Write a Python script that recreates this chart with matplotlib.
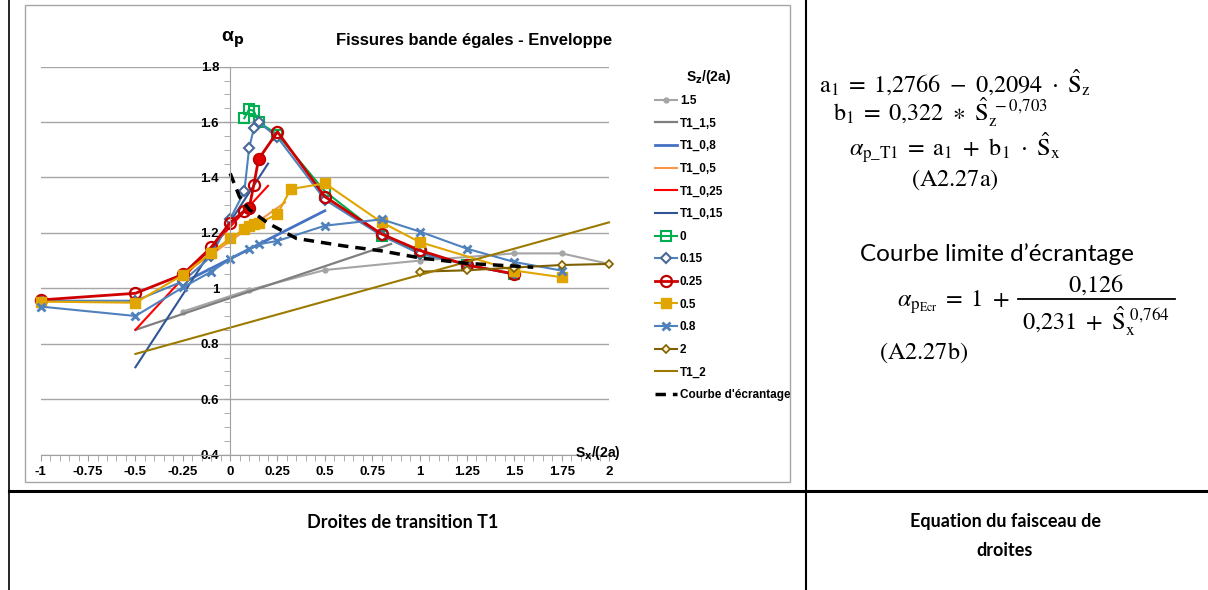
import matplotlib
matplotlib.use('Agg')
import matplotlib.pyplot as plt
from matplotlib.lines import Line2D
from matplotlib.patches import Rectangle
from matplotlib.ticker import MultipleLocator, FuncFormatter

plt.rcParams['font.family'] = ['Liberation Sans', 'DejaVu Sans']

###### Data ######

s15_x = [-0.25, 0.1, 0.5, 1.0, 1.5, 1.75, 2.0]
s15_y = [0.916, 0.994, 1.066, 1.10, 1.126, 1.126, 1.088]

t1_15_x = [-0.5, 0.85]
t1_15_y = [0.85, 1.16]

t1_08_x = [-0.25, 0.5]
t1_08_y = [1.02, 1.28]

t1_05_x = [-0.25, 0.29]
t1_05_y = [1.05, 1.31]

t1_025_x = [-0.5, 0.2]
t1_025_y = [0.85, 1.37]

t1_015_x = [-0.5, 0.2]
t1_015_y = [0.715, 1.45]

s0_x = [0.075, 0.1, 0.125, 0.15, 0.25, 0.5, 0.8, 1.0, 1.25, 1.5]
s0_y = [1.614, 1.646, 1.64, 1.60, 1.555, 1.35, 1.19, 1.13, 1.085, 1.05]

s015_x = [-1, -0.5, -0.25, -0.1, 0, 0.075, 0.1, 0.125, 0.15, 0.25, 0.5, 0.8, 1.0, 1.25, 1.5]
s015_y = [0.955, 0.955, 1.025, 1.115, 1.25, 1.35, 1.505, 1.577, 1.60, 1.545, 1.32, 1.19, 1.125, 1.085, 1.05]

s025_x = [-1, -0.5, -0.25, -0.1, 0, 0.075, 0.1, 0.125, 0.15, 0.25, 0.5, 0.8, 1.0, 1.25, 1.5]
s025_y = [0.958, 0.982, 1.05, 1.148, 1.237, 1.28, 1.289, 1.373, 1.466, 1.565, 1.331, 1.196, 1.137, 1.084, 1.052]
s025_filled = [6, 8]   # points drawn with a solid marker

s05_x = [-1, -0.5, -0.25, -0.1, 0, 0.075, 0.1, 0.125, 0.15, 0.25, 0.32, 0.5, 0.8, 1.0, 1.5, 1.75]
s05_y = [0.952, 0.948, 1.048, 1.128, 1.181, 1.213, 1.225, 1.231, 1.235, 1.268, 1.358, 1.379, 1.238, 1.167, 1.064, 1.04]

s08_x = [-1, -0.5, -0.25, -0.1, 0, 0.1, 0.15, 0.25, 0.5, 0.8, 1.0, 1.25, 1.5, 1.75]
s08_y = [0.934, 0.90, 1.003, 1.06, 1.105, 1.141, 1.159, 1.171, 1.226, 1.249, 1.205, 1.143, 1.095, 1.064]

s2_x = [1.0, 1.25, 1.5, 1.75, 2.0]
s2_y = [1.06, 1.065, 1.075, 1.084, 1.088]

t1_2_x = [-0.5, 2.0]
t1_2_y = [0.763, 1.238]

ecr_x = [0, 0.05, 0.1, 0.2, 0.35, 0.6, 0.8, 1.0, 1.25, 1.6]
ecr_y = [1.415, 1.33, 1.285, 1.235, 1.18, 1.153, 1.135, 1.11, 1.09, 1.076]

###### Styles ######

series = [
    ('1.5',       s15_x,    s15_y,    dict(color='#A5A5A5', lw=1.5, marker='o', ms=3.5)),
    ('T1_1,5',    t1_15_x,  t1_15_y,  dict(color='#7F7F7F', lw=1.6)),
    ('T1_0,8',    t1_08_x,  t1_08_y,  dict(color='#4472C4', lw=2.0)),
    ('T1_0,5',    t1_05_x,  t1_05_y,  dict(color='#F79646', lw=1.5)),
    ('T1_0,25',   t1_025_x, t1_025_y, dict(color='#FF0000', lw=1.5)),
    ('T1_0,15',   t1_015_x, t1_015_y, dict(color='#2F5597', lw=1.5)),
    ('0',         s0_x,     s0_y,     dict(color='#00B050', lw=1.5, marker='s', ms=7, mfc='none', mew=1.5)),
    ('0.15',      s015_x,   s015_y,   dict(color='#4F81BD', lw=1.5, marker='D', ms=5, mfc='white', mec='#4A6A96', mew=1.5)),
    ('0.25',      s025_x,   s025_y,   dict(color='#D00000', lw=2.0, marker='o', ms=8, mfc='none', mec='#C00000', mew=1.6)),
    ('0.5',       s05_x,    s05_y,    dict(color='#E0A500', lw=1.5, marker='s', ms=7)),
    ('0.8',       s08_x,    s08_y,    dict(color='#4F81BD', lw=1.5, marker='x', ms=6, mew=2)),
    ('2',         s2_x,     s2_y,     dict(color='#7F6000', lw=1.5, marker='D', ms=4, mfc='#FFF2CC', mew=1.2)),
    ('T1_2',      t1_2_x,   t1_2_y,   dict(color='#9C7A00', lw=1.5)),
    ("Courbe d'écrantage", ecr_x, ecr_y, dict(color='black', lw=2.5, ls=(0, (3, 2)))),
]

W, H = 1208, 590

fig = plt.figure(figsize=(W / 100, H / 100), dpi=100)
ax = fig.add_axes([40.7 / W, 1 - 454.5 / H, (609 - 40.7) / W, (454.5 - 66.7) / H])

handles = []
for label, xs, ys, st in series:
    ln, = ax.plot(xs, ys, label=label, clip_on=False, **st)
    handles.append(ln)
    if label == '0.25':
        ax.plot(xs, ys, ls='none', marker='o', ms=8, color='#E00000', mec='#C00000',
                markevery=s025_filled, clip_on=False)

ax.set_xlim(-1, 2)
ax.set_ylim(0.4, 1.8)

grey = '#A0A0A0'
ax.spines['top'].set_visible(False)
ax.spines['right'].set_visible(False)
ax.spines['left'].set_position(('data', 0))
ax.spines['left'].set_color(grey)
ax.spines['bottom'].set_color(grey)

ax.xaxis.set_major_locator(MultipleLocator(0.25))
ax.xaxis.set_minor_locator(MultipleLocator(0.05))
ax.yaxis.set_major_locator(MultipleLocator(0.2))
ax.yaxis.set_minor_locator(MultipleLocator(0.05))
fmt = FuncFormatter(lambda v, p: '%g' % round(v, 2))
ax.xaxis.set_major_formatter(fmt)
ax.yaxis.set_major_formatter(fmt)
ax.tick_params(which='both', direction='out', length=4, color=grey)
ax.tick_params(labelsize=9.5, pad=4)
for t in ax.get_xticklabels() + ax.get_yticklabels():
    t.set_fontweight('bold')
ax.yaxis.grid(True, color='#A6A6A6', lw=1)
ax.set_axisbelow(True)

# chart texts
fig.text(233 / W, 1 - 40 / H, 'α$_{\\mathbf{p}}$', fontsize=14, fontweight='bold', ha='center', va='center')
fig.text(474 / W, 1 - 40 / H, 'Fissures bande égales - Enveloppe', fontsize=12, fontweight='bold',
         ha='center', va='center')
fig.text(598 / W, 1 - 453 / H, 'S$_{\\mathbf{x}}$/(2a)', fontsize=10, fontweight='bold', ha='center', va='center')
fig.text(709 / W, 1 - 77 / H, 'S$_{\\mathbf{z}}$/(2a)', fontsize=10, fontweight='bold', ha='center', va='center')

ax.legend(handles=handles, loc='upper left', bbox_to_anchor=(655 / W, 1 - 95 / H),
          bbox_transform=fig.transFigure, frameon=False, borderpad=0, borderaxespad=0,
          prop={'weight': 'bold', 'size': 8.5}, handlelength=1.9, handletextpad=0.2,
          labelspacing=0.9, numpoints=1)

# chart frame and table borders
fig.add_artist(Rectangle((25 / W, 1 - 482 / H), (790 - 25) / W, (482 - 5) / H,
                         transform=fig.transFigure, fill=False, edgecolor='#A6A6A6', lw=1))
fig.add_artist(Line2D([9 / W, 9 / W], [0, 1], color='black', lw=1.2, transform=fig.transFigure))
fig.add_artist(Line2D([806 / W, 806 / W], [0, 1], color='black', lw=1.5, transform=fig.transFigure))
fig.add_artist(Line2D([9 / W, 1], [1 - 491 / H, 1 - 491 / H], color='black', lw=2.2, transform=fig.transFigure))

# equations: explicit spaces so '=' and the binary operators get similar gaps
fs = 17.5
eq = dict(ha='center', va='center', fontsize=fs, math_fontfamily='stix')
fig.text(955 / W, 1 - 82 / H,
         r'$\mathrm{a_1}\;=\;1{,}2766\ -\ 0{,}2094\ \cdot\ \hat{\mathrm{S}}_\mathrm{z}$', **eq)
fig.text(940 / W, 1 - 112 / H,
         r'$\mathrm{b_1}\;=\;0{,}322\ \ast\ \hat{\mathrm{S}}_\mathrm{z}^{\ -0{,}703}$', **eq)
fig.text(955 / W, 1 - 148 / H,
         r'$\alpha_{\mathrm{p\_T1}}\;=\;\mathrm{a_1}\ +\ \mathrm{b_1}\ \cdot\ \hat{\mathrm{S}}_\mathrm{x}$', **eq)
fig.text(955 / W, 1 - 180 / H, r'$\mathrm{(A2.27a)}$', **eq)
fig.text(997 / W, 1 - 254 / H, 'Courbe limite d’écrantage', ha='center', va='center', fontsize=17.5, family='Lato')

# fraction built from parts so the spacing matches
fig.text(1010 / W, 1 - 307 / H, r'$\alpha_{\mathrm{p_{Ecr}}}\;=\;1\ +$',
         ha='right', va='baseline', fontsize=fs, math_fontfamily='stix')
fig.text(1096 / W, 1 - 292 / H, r'$0{,}126$', ha='center', va='baseline', fontsize=fs, math_fontfamily='stix')
fig.add_artist(Line2D([1018 / W, 1175 / W], [1 - 299 / H, 1 - 299 / H], color='black', lw=1.3,
                      transform=fig.transFigure))
fig.text(1096 / W, 1 - 329 / H, r'$0{,}231\ +\ \hat{\mathrm{S}}_\mathrm{x}^{\ 0{,}764}$',
         ha='center', va='baseline', fontsize=fs, math_fontfamily='stix')
fig.text(924 / W, 1 - 353 / H, r'$\mathrm{(A2.27b)}$', **eq)

# captions
cap = dict(ha='center', va='center', fontsize=13, fontweight='bold', family='Lato')
fig.text(403 / W, 1 - 522 / H, 'Droites de transition T1', **cap)
fig.text(1005 / W, 1 - 522 / H, 'Equation du faisceau de', **cap)
fig.text(1005 / W, 1 - 551 / H, 'droites', **cap)

fig.savefig('out.png', dpi=100)
